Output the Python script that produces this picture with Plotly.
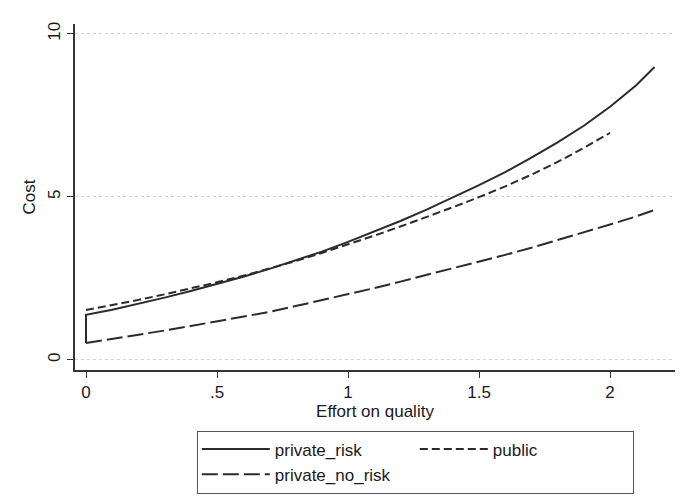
import plotly.graph_objects as go

# Data
x_grid = [0.0, 0.1, 0.2, 0.3, 0.4, 0.5, 0.6, 0.7, 0.8, 0.9, 1.0,
          1.1, 1.2, 1.3, 1.4, 1.5, 1.6, 1.7, 1.8, 1.9, 2.0, 2.1, 2.17]

private_risk_x = [0.0] + x_grid
private_risk_y = [0.52, 1.38, 1.54, 1.72, 1.91, 2.11, 2.32, 2.55, 2.79, 3.05, 3.32, 3.62,
                  3.93, 4.26, 4.61, 4.98, 5.36, 5.76, 6.20, 6.67, 7.18, 7.76, 8.42, 8.98]

public_x = x_grid[:21]
public_y = [1.53, 1.68, 1.84, 2.01, 2.19, 2.38, 2.58, 2.80, 3.03, 3.28, 3.54,
            3.81, 4.09, 4.38, 4.68, 4.99, 5.32, 5.68, 6.07, 6.50, 6.96]

private_no_risk_x = x_grid
private_no_risk_y = [0.52, 0.64, 0.77, 0.90, 1.04, 1.18, 1.32, 1.47, 1.65, 1.83, 2.02,
                     2.20, 2.40, 2.60, 2.80, 3.00, 3.22, 3.44, 3.67, 3.90, 4.15, 4.40, 4.60]

x_tickvals = [0, 0.5, 1, 1.5, 2]
x_ticktext = ["0", ".5", "1", "1.5", "2"]
y_tickvals = [0, 5, 10]
y_ticktext = ["0", "5", "10"]

LINE = "#2b2b2b"
FONT = "Liberation Sans, Arial, sans-serif"

fig = go.Figure()
fig.add_trace(go.Scatter(x=private_risk_x, y=private_risk_y, mode="lines", name="private_risk",
                         legendgroup="a", line=dict(color=LINE, width=2)))
fig.add_trace(go.Scatter(x=private_no_risk_x, y=private_no_risk_y, mode="lines", name="private_no_risk",
                         legendgroup="a", line=dict(color=LINE, width=2, dash="16px,5px")))
fig.add_trace(go.Scatter(x=public_x, y=public_y, mode="lines", name="public",
                         legendgroup="b", line=dict(color=LINE, width=2, dash="8px,4px")))

fig.update_layout(
    width=682, height=502,
    margin=dict(l=75, r=7, t=24, b=132),
    paper_bgcolor="white", plot_bgcolor="white",
    font=dict(family=FONT, size=17, color="#1a1a1a"),
    showlegend=True,
    legend=dict(orientation="h", traceorder="grouped", tracegroupgap=0,
                entrywidth=135, entrywidthmode="pixels",
                x=0.203, xanchor="left", y=-0.175, yanchor="top",
                bordercolor="#555", borderwidth=1, bgcolor="white",
                itemwidth=68, font=dict(size=17)),
    xaxis=dict(range=[-0.042, 2.248], tickvals=x_tickvals, ticktext=x_ticktext,
               showgrid=False, zeroline=False, showline=True, linecolor="#333", linewidth=1.5,
               ticks="outside", ticklen=6, tickcolor="#333", tickwidth=1.2,
               title=dict(text="Effort on quality", standoff=3, font=dict(size=17)),
               tickfont=dict(size=17)),
    yaxis=dict(range=[-0.31, 10.3], tickvals=y_tickvals, ticktext=y_ticktext,
               showgrid=True, gridcolor="#d0d0d0", griddash="dot", gridwidth=1,
               zeroline=False, showline=True, linecolor="#333", linewidth=1.5,
               ticks="outside", ticklen=6, tickcolor="#333", tickwidth=1.2,
               tickangle=-90, tickfont=dict(size=17),
               title=dict(text="Cost", standoff=6, font=dict(size=17))),
)

fig.write_html("out.html")
